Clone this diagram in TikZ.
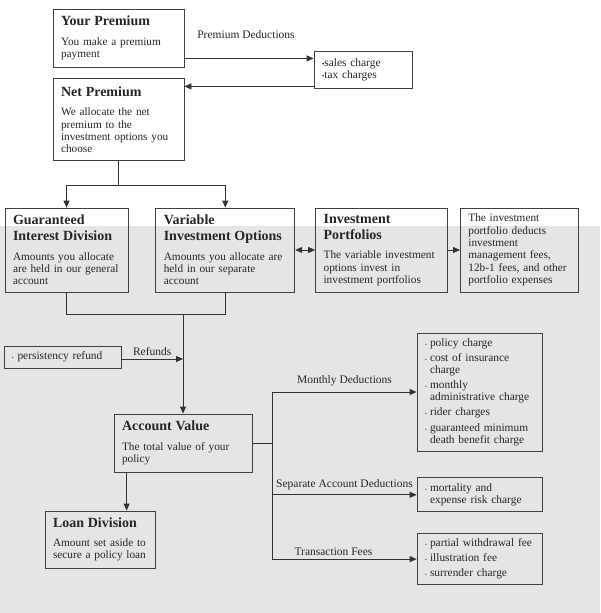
\documentclass[tikz,border=0pt]{standalone}
\usepackage{fontspec}
\setmainfont{Liberation Serif}
\usetikzlibrary{arrows.meta, positioning, calc}

\newcommand{\boxhead}[1]{{\fontsize{14}{16}\selectfont\bfseries #1\par}\vspace{7pt}}
\newcommand{\bitem}[1]{\hangindent=5pt\hangafter=1\noindent\makebox[5pt][l]{\tiny\textbullet}#1\par}

\begin{document}
\begin{tikzpicture}[
    x=1pt, y=-1pt,
    box_main/.style={draw=black!75, line width=0.8pt, inner xsep=8pt, inner ysep=3pt, align=left,
      font=\fontsize{11.3}{12.3}\selectfont, text=black!85},
    box_list/.style={box_main, font=\fontsize{11.4}{12.3}\selectfont},
    lbl_text/.style={font=\fontsize{11.5}{12}\selectfont, text=black!85, inner sep=1pt},
    edge_path/.style={->, >={Triangle[length=7pt, width=6pt]}, line width=0.8pt, draw=black!80},
    edge_line/.style={line width=0.8pt, draw=black!80}
  ]
    \useasboundingbox (0,0) rectangle (600,613);
    \fill[gray!20] (0,226) rectangle (600,613);

    \node[box_main, text width=115pt, minimum height=58pt] (prem) at (118.5,38)
      {\boxhead{Your Premium}You make a premium\\payment};
    \node[box_main, text width=115pt, minimum height=82pt, below=11pt of prem] (net)
      {\boxhead{Net Premium}We allocate the net\\premium to the\\investment options you\\choose};
    \node[box_list, text width=82pt, minimum height=37pt] (ded) at (363,69.5)
      {{\scriptsize\textbullet}sales charge\\{\scriptsize\textbullet}tax charges};
    \node[lbl_text] (dedlbl) at (246,35) {Premium Deductions};

    \node[box_main, text width=107pt, minimum height=84pt] (gid) at (66.5,250)
      {\boxhead{Guaranteed\\Interest Division}Amounts you allocate\\are held in our general\\account};
    \node[box_main, text width=123pt, minimum height=84pt, right=27pt of gid] (vio)
      {\boxhead{Variable\\Investment Options}Amounts you allocate are\\held in our separate\\account};
    \node[box_main, text width=116pt, minimum height=84pt, right=20pt of vio] (port)
      {\boxhead{Investment\\Portfolios}The variable investment\\options invest in\\investment portfolios};
    \node[box_main, text width=102pt, minimum height=84pt, right=12pt of port] (fees)
      {The investment\\portfolio deducts\\investment\\management fees,\\12b-1 fees, and other\\portfolio expenses};

    \node[box_list, text width=101pt, minimum height=22pt] (refund) at (62.5,357)
      {{\tiny\textbullet} persistency refund};
    \node[box_main, text width=122pt, minimum height=58pt] (acct) at (183,443)
      {\boxhead{Account Value}The total value of your\\policy};
    \node[box_main, text width=94pt, minimum height=57pt] (loan) at (100,539.5)
      {\boxhead{Loan Division}Amount set aside to\\secure a policy loan};

    \node[box_list, text width=109pt, minimum height=118pt] (mon) at (479.5,392)
      {\bitem{policy charge}\vspace{2.8pt}\bitem{cost of insurance\newline charge}\vspace{2.8pt}%
       \bitem{monthly\newline administrative charge}\vspace{2.8pt}\bitem{rider charges}\vspace{2.8pt}%
       \bitem{guaranteed minimum\newline death benefit charge}};
    \node[box_list, text width=109pt, minimum height=34pt, below=26pt of mon] (sep)
      {\bitem{mortality and\newline expense risk charge}};
    \node[box_list, text width=109pt, minimum height=51pt, below=21pt of sep] (trans)
      {\bitem{partial withdrawal fee}\vspace{2.8pt}\bitem{illustration fee}\vspace{2.8pt}\bitem{surrender charge}};

    \coordinate (d_out) at ([yshift=9pt]prem.south east);
    \coordinate (d_in) at ([yshift=-8pt]net.north east);
    \draw[edge_path] (d_out) -- (d_out -| ded.west);
    \draw[edge_path] (d_in -| ded.west) -- (d_in);

    \coordinate (split) at ([yshift=-24pt]net.south);
    \draw[edge_line] (net.south) -- (split);
    \draw[edge_path] (split) -| (gid.north);
    \draw[edge_path] (split) -| (vio.north);

    \draw[edge_path, <->] (vio) -- (port);
    \draw[edge_path] (port) -- (fees);

    \draw[edge_line] (gid.south) -- ++(0,22) coordinate (m_left) -| (vio.south);
    \coordinate (merge) at (acct.north |- m_left);
    \draw[edge_path] (merge) -- (acct.north);
    \draw[edge_path] ([yshift=-2pt]refund.east) -- ([yshift=-2pt]refund.east -| merge) node[midway, above=2pt, lbl_text] {Refunds};

    \coordinate (a_low) at ([xshift=13pt]acct.south west);
    \draw[edge_path] (a_low) -- (a_low |- loan.north);

    \draw[edge_line] (acct.east) -- ++(20,0) coordinate (trunk);
    \draw[edge_path] (trunk) |- (mon.west) node[pos=0.75, above=5pt, lbl_text] {Monthly Deductions};
    \draw[edge_path] (trunk) |- (sep.west) node[pos=0.75, above=3pt, lbl_text] {Separate Account Deductions};
    \draw[edge_path] (trunk) |- (trans.west) node[pos=0.75, above=2pt, lbl_text, xshift=-11pt] {Transaction Fees};
  \end{tikzpicture}
\end{document}
